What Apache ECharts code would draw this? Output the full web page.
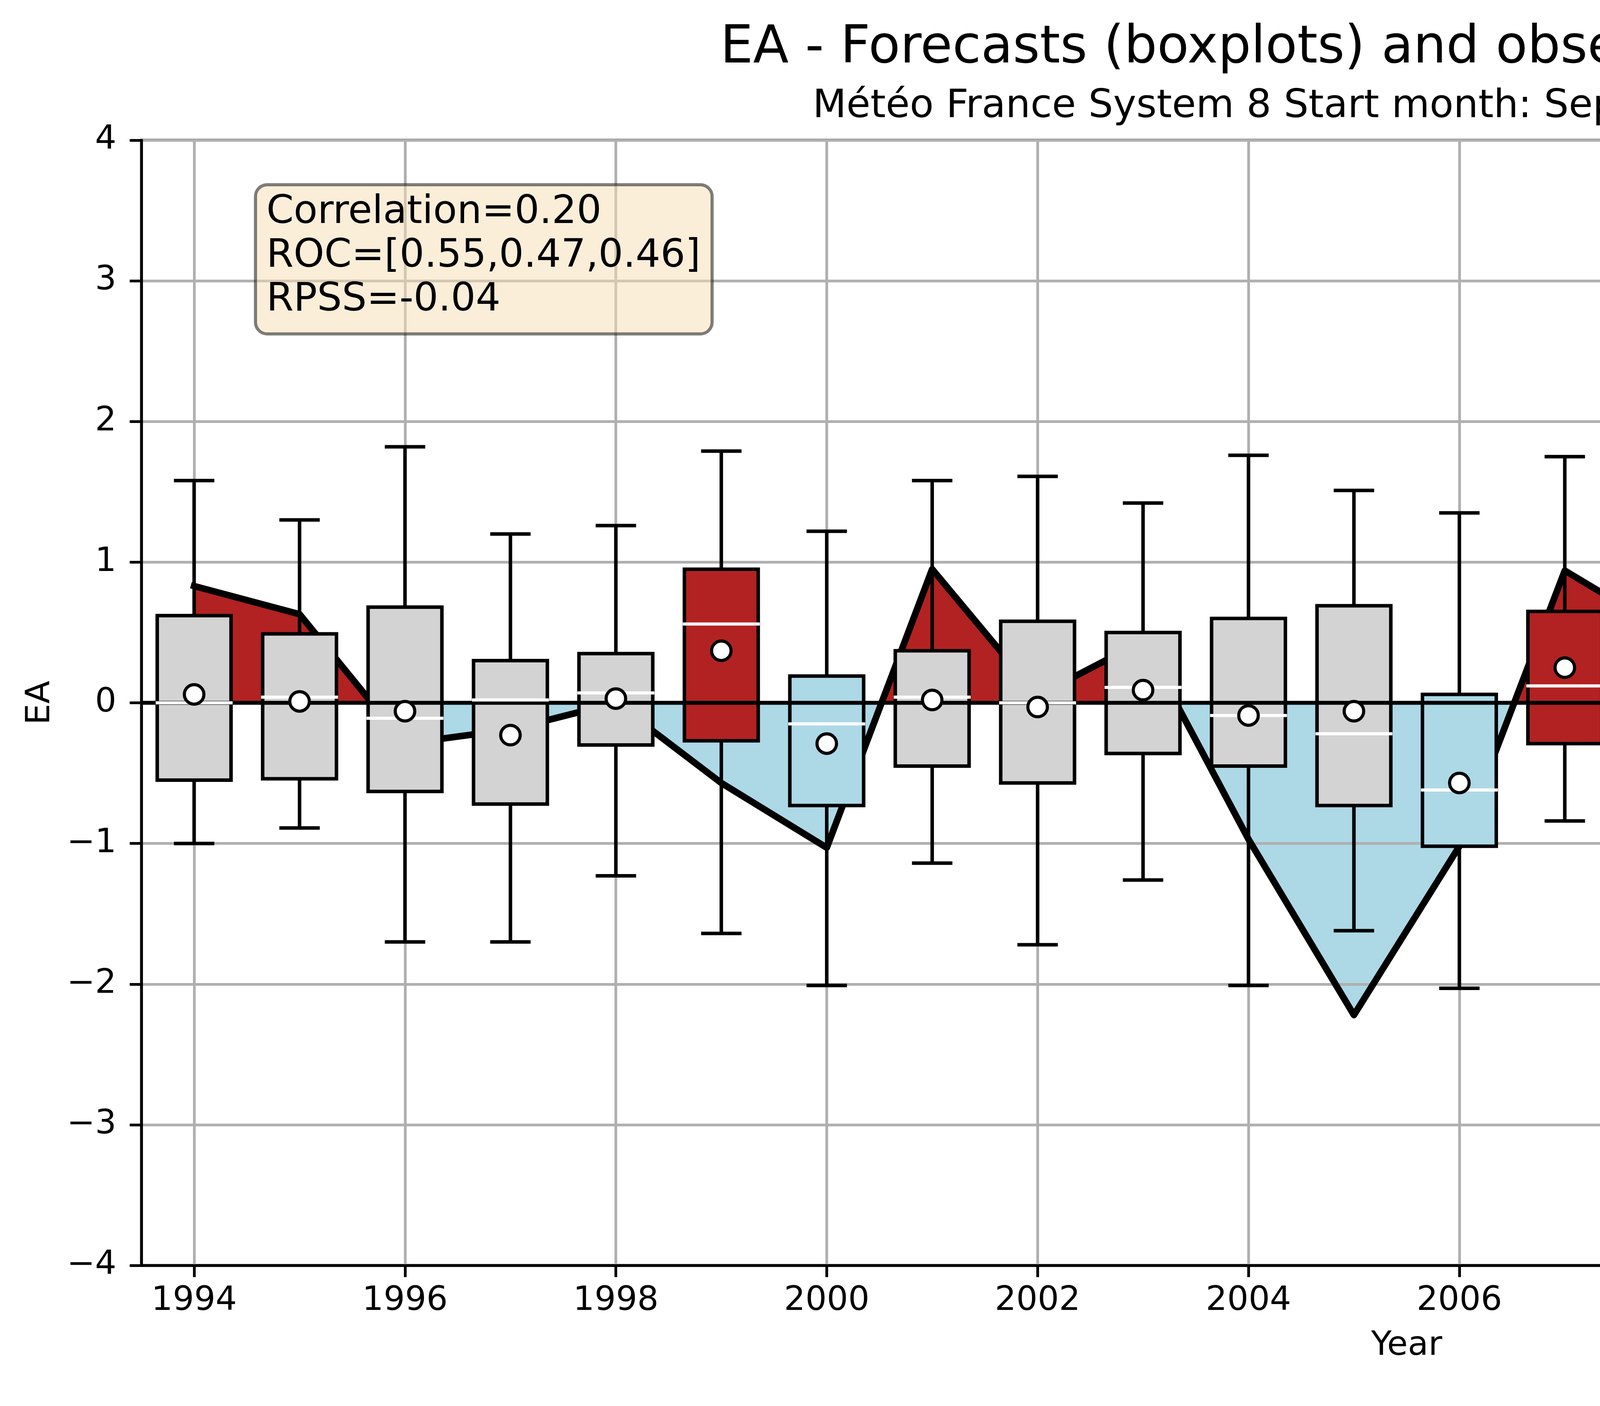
<!DOCTYPE html>
<html>
<head>
<meta charset="utf-8">
<script src="https://cdn.jsdelivr.net/npm/echarts@6/dist/echarts.min.js"></script>
<style>
  html, body { margin: 0; padding: 0; background: #fff; }
  #chart { width: 7200px; height: 3600px; }
</style>
</head>
<body>
<div id="chart"></div>
<script>
// data
var years = [1994, 1995, 1996, 1997, 1998, 1999, 2000, 2001, 2002, 2003, 2004, 2005,
             2006, 2007, 2008, 2009, 2010, 2011, 2012, 2013, 2014, 2015, 2016, 2017];
var obs = [0.83, 0.63, -0.29, -0.19, 0.00, -0.57, -1.03, 0.95, 0.05, 0.44, -0.97, -2.22,
           -1.02, 0.94, 0.49, -0.12, 0.45, -0.29, -1.32, 0.34, 2.61, -1.02, 1.52, -0.30];
var whiskerLow = [-1.00, -0.89, -1.70, -1.70, -1.23, -1.64, -2.01, -1.14, -1.72, -1.26, -2.01, -1.62,
                  -2.03, -0.84, -1.65, -1.99, -1.50, -1.55, -1.01, -1.58, -1.72, -1.42, -1.60, -1.83];
var q1 = [-0.55, -0.54, -0.63, -0.72, -0.30, -0.27, -0.73, -0.45, -0.57, -0.36, -0.45, -0.73,
          -1.02, -0.29, -0.79, -0.95, -0.42, -0.36, -0.28, -0.46, -0.62, -0.87, -0.57, -0.62];
var median = [0.00, 0.04, -0.11, 0.02, 0.07, 0.56, -0.15, 0.04, 0.00, 0.11, -0.09, -0.22,
              -0.62, 0.12, 0.17, -0.48, 0.12, 0.17, 0.21, 0.19, 0.08, 0.11, -0.06, 0.07];
var q3 = [0.62, 0.49, 0.68, 0.30, 0.35, 0.95, 0.19, 0.37, 0.58, 0.50, 0.60, 0.69,
          0.06, 0.65, 0.83, 0.78, 0.35, 0.61, 0.74, 0.98, 0.77, 0.77, 0.64, 0.49];
var whiskerHigh = [1.58, 1.30, 1.82, 1.20, 1.26, 1.79, 1.22, 1.58, 1.61, 1.42, 1.76, 1.51,
                   1.35, 1.75, 1.43, 1.74, 1.21, 2.00, 1.49, 1.87, 1.35, 1.63, 0.95, 1.85];
var means = [0.06, 0.01, -0.06, -0.23, 0.03, 0.37, -0.29, 0.02, -0.03, 0.09, -0.09, -0.06,
             -0.57, 0.25, -0.04, -0.18, 0.03, 0.18, 0.25, 0.19, 0.04, 0.06, -0.03, 0.00];
// tercile class of each forecast box: 'above', 'below' or 'normal'
var boxClass = ['normal', 'normal', 'normal', 'normal', 'normal', 'above', 'below', 'normal',
                'normal', 'normal', 'normal', 'normal', 'below', 'above', 'normal', 'normal',
                'normal', 'normal', 'normal', 'normal', 'normal', 'normal', 'normal', 'normal'];
var xTicks = [1994, 1996, 1998, 2000, 2002, 2004, 2006, 2008, 2010, 2012, 2014, 2016];
var statsLines = ['Correlation=0.20', 'ROC=[0.55,0.47,0.46]', 'RPSS=-0.04'];

var FONT = 'DejaVu Sans';
var X_MIN = 1993.5, X_MAX = 2017.5;
var BOX_W = 0.7, CAP_W = 0.35;
var boxColors = { above: '#b22222', below: '#add8e6', normal: '#d3d3d3' };

var boxData = years.map(function (y, i) {
  return [y, whiskerLow[i], q1[i], median[i], q3[i], whiskerHigh[i]];
});
var obsData = years.map(function (y, i) { return [y, obs[i]]; });
var meanData = years.map(function (y, i) { return [y, means[i]]; });

function renderBox(params, api) {
  var x = api.value(0);
  var lo = api.coord([x, api.value(1)]);
  var b1 = api.coord([x, api.value(2)]);
  var b3 = api.coord([x, api.value(4)]);
  var hi = api.coord([x, api.value(5)]);
  var bw = api.size([BOX_W, 0])[0];
  var cw = api.size([CAP_W, 0])[0];
  var cx = lo[0];
  var whisker = { stroke: '#000', lineWidth: 9, lineCap: 'butt' };
  var cap = { stroke: '#000', lineWidth: 9, lineCap: 'square' };
  return {
    type: 'group',
    children: [
      { type: 'line', shape: { x1: cx, y1: b3[1], x2: cx, y2: hi[1] }, style: whisker },
      { type: 'line', shape: { x1: cx, y1: b1[1], x2: cx, y2: lo[1] }, style: whisker },
      { type: 'line', shape: { x1: cx - cw / 2, y1: hi[1], x2: cx + cw / 2, y2: hi[1] }, style: cap },
      { type: 'line', shape: { x1: cx - cw / 2, y1: lo[1], x2: cx + cw / 2, y2: lo[1] }, style: cap },
      {
        type: 'rect',
        shape: { x: cx - bw / 2, y: b3[1], width: bw, height: b1[1] - b3[1] },
        style: { fill: boxColors[boxClass[params.dataIndex]], stroke: '#000', lineWidth: 9 }
      }
    ]
  };
}

function renderMedian(params, api) {
  var x = api.value(0);
  var p = api.coord([x, api.value(3)]);
  var bw = api.size([BOX_W, 0])[0];
  return {
    type: 'line',
    shape: { x1: p[0] - bw / 2, y1: p[1], x2: p[0] + bw / 2, y2: p[1] },
    style: { stroke: '#fff', lineWidth: 8, lineCap: 'square' }
  };
}

var chart = echarts.init(document.getElementById('chart'));

var option = {
  animation: false,
  backgroundColor: '#fff',
  title: [
    {
      text: 'EA - Forecasts (boxplots) and observations (shading)',
      left: 'center', top: 55, padding: 0,
      textStyle: { fontFamily: FONT, fontSize: 133, fontWeight: 'normal', color: '#000', lineHeight: 140 }
    },
    {
      text: 'Météo France System 8 Start month: Sep - Valid months: DJF',
      left: 'center', top: 219, padding: 0,
      textStyle: { fontFamily: FONT, fontSize: 100, fontWeight: 'normal', color: '#000', lineHeight: 110 }
    },
    {
      text: statsLines.join('\n'),
      left: 654, top: 473,
      padding: [16, 30, 30, 28],
      backgroundColor: 'rgba(245,222,179,0.5)',
      borderColor: 'rgba(0,0,0,0.5)',
      borderWidth: 8,
      borderRadius: 30,
      textStyle: { fontFamily: FONT, fontSize: 100, fontWeight: 'normal', color: '#000', lineHeight: 112 }
    }
  ],
  grid: {
    left: 362, right: 360, top: 359, bottom: 360,
    show: true, borderColor: '#000', borderWidth: 7, backgroundColor: 'transparent'
  },
  xAxis: {
    type: 'value',
    min: X_MIN, max: X_MAX,
    name: 'Year', nameLocation: 'middle', nameGap: 164,
    nameTextStyle: { fontFamily: FONT, fontSize: 86, color: '#000', lineHeight: 86 },
    axisLine: { show: true, onZero: false, lineStyle: { color: '#000', width: 7 } },
    axisTick: { show: true, customValues: xTicks, length: 30, lineStyle: { color: '#000', width: 7 } },
    axisLabel: {
      customValues: xTicks, margin: 49,
      fontFamily: FONT, fontSize: 86, color: '#000', lineHeight: 86,
      formatter: function (v) { return String(v); }
    },
    splitLine: { show: true, lineStyle: { color: '#b0b0b0', width: 7 } }
  },
  yAxis: {
    type: 'value',
    min: -4, max: 4, interval: 1,
    name: 'EA', nameLocation: 'middle', nameGap: 215,
    nameTextStyle: { fontFamily: FONT, fontSize: 86, color: '#000', lineHeight: 86 },
    axisLine: { show: true, onZero: false, lineStyle: { color: '#000', width: 7 } },
    axisTick: { show: true, length: 30, lineStyle: { color: '#000', width: 7 } },
    axisLabel: {
      margin: 64, fontFamily: FONT, fontSize: 86, color: '#000',
      formatter: function (v) { return v < 0 ? '\u2212' + Math.abs(v) : String(v); }
    },
    splitLine: { show: true, lineStyle: { color: '#b0b0b0', width: 7 } }
  },
  visualMap: {
    type: 'piecewise', show: false, dimension: 1, seriesIndex: 0,
    pieces: [
      { gte: -10, lt: 0, color: '#add8e6' },
      { gte: 0, lte: 10, color: '#b22222' }
    ]
  },
  series: [
    {
      // observation shading, under the grid lines
      type: 'line', name: 'obs-area', data: obsData, z: -1,
      symbol: 'none', silent: true,
      lineStyle: { width: 0, opacity: 0 },
      areaStyle: { opacity: 1 }
    },
    {
      type: 'line', name: 'obs', data: obsData, z: 2,
      symbol: 'none', silent: true,
      lineStyle: { color: '#000', width: 17, cap: 'square', join: 'round' }
    },
    {
      type: 'custom', name: 'boxes', data: boxData, z: 3, silent: true,
      encode: { x: 0, y: [1, 5] },
      renderItem: renderBox
    },
    {
      type: 'line', name: 'zero', data: [[X_MIN, 0], [X_MAX, 0]], z: 4,
      symbol: 'none', silent: true,
      lineStyle: { color: '#000', width: 10 }
    },
    {
      type: 'custom', name: 'median', data: boxData, z: 5, silent: true,
      encode: { x: 0, y: 3 },
      renderItem: renderMedian
    },
    {
      type: 'scatter', name: 'mean', data: meanData, z: 6, silent: true,
      symbol: 'circle', symbolSize: 50,
      itemStyle: { color: '#fff', borderColor: '#000', borderWidth: 8, opacity: 1 }
    }
  ]
};

chart.setOption(option);
</script>
</body>
</html>
